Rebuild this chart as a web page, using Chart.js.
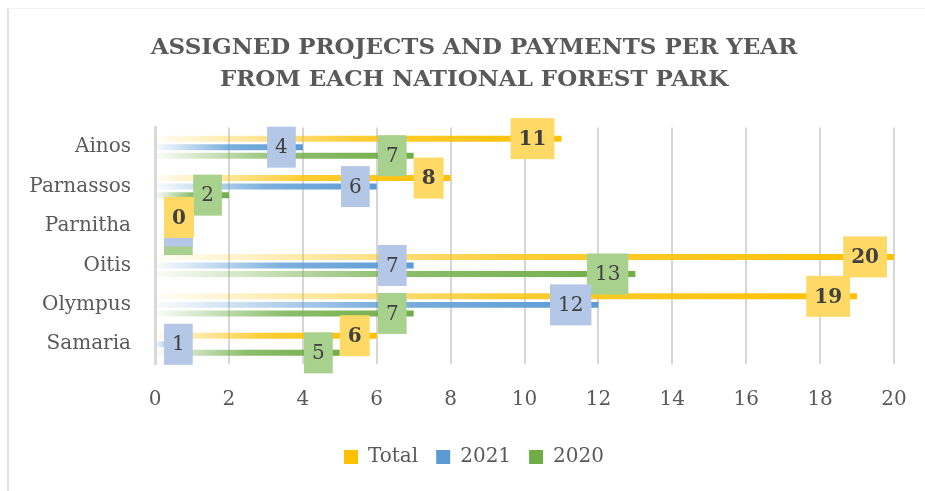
<!DOCTYPE html>
<html>
<head>
<meta charset="utf-8">
<script src="https://cdn.jsdelivr.net/npm/chart.js@4.4.1/dist/chart.umd.min.js"></script>
<style>
    body { margin: 0; background: #fff; }
    #wrap { position: relative; width: 925px; height: 491px; }
    #frame { position: absolute; left: 7px; top: 8px; width: 940px; height: 500px;
             border-left: 2px solid #e3e3e3; border-top: 1px solid #f3f3f3; pointer-events: none; }
</style>
</head>
<body>
<div id="wrap">
    <canvas id="parksChart"></canvas>
    <div id="frame"></div>
</div>
<script>
// values
const parks = ["Ainos", "Parnassos", "Parnitha", "Oitis", "Olympus", "Samaria"];
const total = [11, 8, 0, 20, 19, 6];
const y2021 = [4, 6, 0, 7, 12, 1];
const y2020 = [7, 2, 0, 13, 7, 5];
const xTicks = [0, 2, 4, 6, 8, 10, 12, 14, 16, 18, 20];
const titleLines = ["ASSIGNED PROJECTS AND PAYMENTS PER YEAR", "FROM EACH NATIONAL FOREST PARK"];

const serif = "'DejaVu Serif', serif";

// bar fades in from the axis, like the original gradient fill
function fade(rgb) {
    return function(ctx) {
        const chart = ctx.chart;
        if (!chart.chartArea || ctx.raw === undefined) return "rgb(" + rgb + ")";
        const left = chart.chartArea.left;
        const end = chart.scales.x.getPixelForValue(ctx.raw);
        if (end - left < 1) return "rgb(" + rgb + ")";
        const g = chart.ctx.createLinearGradient(left, 0, end, 0);
        g.addColorStop(0, "rgba(" + rgb + ",0.03)");
        g.addColorStop(0.5, "rgba(" + rgb + ",0.8)");
        g.addColorStop(1, "rgba(" + rgb + ",1)");
        return g;
    };
}

const labelBoxes = ["#FFD966", "#B4C7E7", "#A9D18E"];

// boxed value labels, drawn at the inside end of each bar
const boxLabels = {
    id: "boxLabels",
    afterDatasetsDraw(chart) {
        const ctx = chart.ctx;
        const left = chart.chartArea.left;
        ctx.save();
        for (let d = chart.data.datasets.length - 1; d >= 0; d--) {
            const meta = chart.getDatasetMeta(d);
            ctx.font = (d === 0 ? "bold " : "") + "20px " + serif;
            meta.data.forEach((bar, i) => {
                const text = String(chart.data.datasets[d].data[i]);
                const w = ctx.measureText(text).width + 16;
                const h = 41;
                let x0 = bar.x - 7 - w;
                if (x0 < left + 9) x0 = left + 9;
                ctx.fillStyle = labelBoxes[d];
                ctx.fillRect(x0, bar.y - h / 2, w, h);
                ctx.fillStyle = "#404040";
                ctx.textAlign = "center";
                ctx.textBaseline = "middle";
                ctx.fillText(text, x0 + w / 2, bar.y + 1);
            });
        }
        ctx.restore();
    }
};

const ctx = document.getElementById("parksChart").getContext("2d");

new Chart(ctx, {
    type: "bar",
    data: {
        labels: parks,
        datasets: [
            { label: "Total", data: total, backgroundColor: fade("255,192,0") },
            { label: "2021", data: y2021, backgroundColor: fade("91,155,213") },
            { label: "2020", data: y2020, backgroundColor: fade("112,173,71") }
        ]
    },
    options: {
        indexAxis: "y",
        responsive: true,
        maintainAspectRatio: false,
        animation: false,
        categoryPercentage: 0.65,
        barPercentage: 0.7,
        layout: { padding: { left: 23, right: 0, top: 0, bottom: 14 } },
        scales: {
            x: {
                min: 0,
                max: 20,
                afterBuildTicks: s => { s.ticks = xTicks.map(v => ({ value: v })); },
                grid: { color: "#d6d6d6", lineWidth: 2, drawTicks: false },
                border: { display: false },
                ticks: { color: "#595959", font: { family: serif, size: 20 }, padding: 24 },
                afterFit: s => { s.height = 65; s.paddingRight = 31; }
            },
            y: {
                grid: { display: false, drawTicks: false },
                border: { color: "#d9d9d9", width: 3 },
                ticks: { color: "#595959", font: { family: serif, size: 20 }, padding: 24 },
                afterFit: s => { s.width = 132; }
            }
        },
        plugins: {
            title: {
                display: true,
                text: titleLines,
                color: "#595959",
                font: { family: serif, size: 23, weight: "bold", lineHeight: 1.38 },
                padding: { top: 32, bottom: 32 }
            },
            legend: {
                position: "bottom",
                labels: {
                    color: "#595959",
                    font: { family: serif, size: 20 },
                    boxWidth: 14,
                    boxHeight: 14,
                    padding: 18,
                    generateLabels: chart => {
                        const solid = ["#FFC000", "#5B9BD5", "#70AD47"];
                        return chart.data.datasets.map((ds, i) => ({
                            text: ds.label,
                            fillStyle: solid[i],
                            strokeStyle: solid[i],
                            lineWidth: 0,
                            fontColor: "#595959",
                            datasetIndex: i
                        }));
                    }
                }
            },
            tooltip: { enabled: false }
        }
    },
    plugins: [boxLabels]
});
</script>
</body>
</html>
